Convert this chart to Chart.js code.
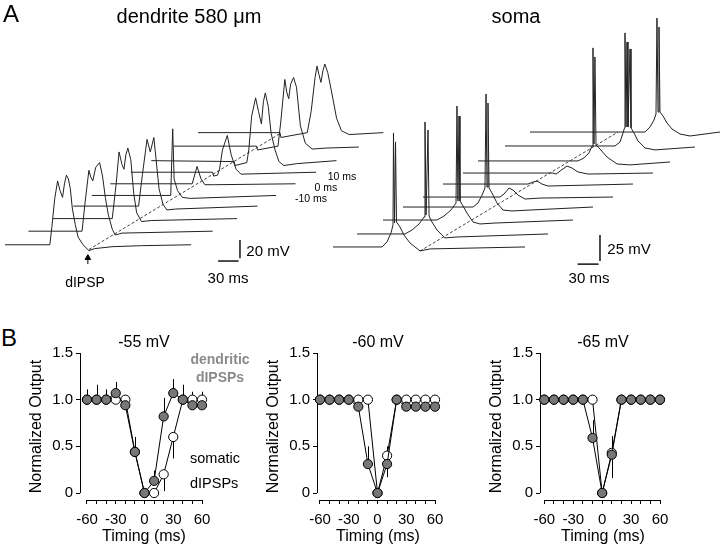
<!DOCTYPE html>
<html><head><meta charset="utf-8">
<script src="https://cdn.jsdelivr.net/npm/chart.js@4.4.1/dist/chart.umd.min.js"></script>
<style>
html,body{margin:0;padding:0;background:#fff;width:720px;height:548px;overflow:hidden;font-family:"Liberation Sans",Arial,sans-serif;}
canvas{position:absolute;}
.t{position:absolute;white-space:nowrap;color:#000;line-height:1;transform:translate(-50%,-50%);}
.l{position:absolute;white-space:nowrap;color:#000;line-height:1;transform:translate(0,-50%);}
</style></head><body>
<canvas id="cDend" width="400" height="300" style="left:0;top:0"></canvas>
<canvas id="cSoma" width="390" height="300" style="left:330px;top:0"></canvas>
<canvas id="cB1" width="240" height="228" style="left:24px;top:320px"></canvas>
<canvas id="cB2" width="234" height="228" style="left:261px;top:320px"></canvas>
<canvas id="cB3" width="238" height="228" style="left:484px;top:320px"></canvas>

<div class="t" style="left:11px;top:14px;font-size:24px">A</div>
<div class="t" style="left:189px;top:16px;font-size:20px">dendrite 580 μm</div>
<div class="t" style="left:516px;top:16px;font-size:20px">soma</div>
<div class="t" style="left:268px;top:250px;font-size:15px">20 mV</div>
<div class="t" style="left:228px;top:277px;font-size:15px">30 ms</div>
<div class="t" style="left:85px;top:282px;font-size:14px">dIPSP</div>
<div class="t" style="left:342px;top:176px;font-size:10.5px">10 ms</div>
<div class="t" style="left:326px;top:187px;font-size:10.5px">0 ms</div>
<div class="t" style="left:311px;top:198px;font-size:10.5px">-10 ms</div>
<div class="t" style="left:629px;top:248px;font-size:15px">25 mV</div>
<div class="t" style="left:589px;top:277px;font-size:15px">30 ms</div>
<div class="t" style="left:9px;top:338px;font-size:24px">B</div>
<div class="t" style="left:220px;top:359px;font-size:14px;font-weight:bold;color:#8a8a8a">dendritic</div>
<div class="t" style="left:220px;top:377px;font-size:14px;font-weight:bold;color:#8a8a8a">dIPSPs</div>
<div class="l" style="left:190px;top:458px;font-size:14.5px">somatic</div>
<div class="l" style="left:190px;top:483px;font-size:14.5px">dIPSPs</div>

<script>
// ---------- Panel B data ----------
const timing = [-60,-50,-40,-30,-20,-10,0,10,20,30,40,50,60];
const xTickValues = [-60,-50,-40,-30,-20,-10,0,10,20,30,40,50,60];
const xTickLabels = [-60,-30,0,30,60];
const yTickValues = [0,0.5,1.0,1.5];

const dend55 = [1.0,1.0,1.0,1.07,0.94,0.44,0.0,0.13,0.82,1.07,1.0,0.94,0.94];
const dend55ErrUp = [0.11,0.16,0.11,0.12,0.04,0.16,0,0.11,0.2,0.15,0.16,0.145,0.145];
const dend55ErrDn = [0,0,0,0,0,0,0,0,0,0,0,0,0];
const soma55 = [1,1,1,1,1,0.44,0,0,0.2,0.6,1,1,1];
const soma55ErrUp = [0,0,0,0,0,0,0,0,0,0,0,0,0];
const soma55ErrDn = [0,0,0,0,0,0,0,0,0.18,0.23,0,0,0];

const dend60 = [1,1,1,1,0.925,0.31,0,0.31,1,0.925,0.925,0.925,0.925];
const dend60ErrUp = [0.05,0.05,0.05,0.05,0,0.19,0,0,0,0,0,0,0];
const dend60ErrDn = [0,0,0,0,0,0,0,0.14,0,0,0,0,0];
const soma60 = [1,1,1,1,1,1,0,0.40,1,1,1,1,1];
const soma60ErrUp = [0,0,0,0,0,0,0,0.1,0,0,0,0,0];
const soma60ErrDn = [0,0,0,0,0,0,0,0,0,0,0,0,0];

const dend65 = [1,1,1,1,1,0.59,0,0.41,1,1,1,1,1];
const dend65ErrUp = [0,0,0,0,0,0.19,0,0.2,0,0,0,0,0];
const dend65ErrDn = [0,0,0,0,0,0,0,0,0,0,0,0,0];
const soma65 = [1,1,1,1,1,1,0,0.43,1,1,1,1,1];
const soma65ErrUp = [0,0,0,0,0,0,0,0,0,0,0,0,0];
const soma65ErrDn = [0,0,0,0,0,0,0,0.27,0,0,0,0,0];

// ---------- Panel A data: [ms, mV] relative to each trace start ----------
const dendTrace1 = [[0,0],[65.7,0],[68.6,18.9],[72.9,50.5],[77.1,69.5],[80.7,58.9],[84.3,51.6],[87.1,66.3],[90,75.8],[92.9,71.6],[95.7,61.1],[98.6,40],[102.9,22.1],[107.1,8.4],[114.3,0],[122.9,-6.3],[131.4,-4.2],[157,-2.1],[200,-1],[272.9,0]];
const dendTrace2 = [[0,0],[78.6,0],[82.9,30.5],[88.6,66.3],[91.4,58.9],[94.3,54.7],[98.6,69.5],[104.3,74.7],[108.6,60],[112.9,35.8],[117.1,17.9],[122.9,2.1],[127.1,-4.2],[137.1,-2.1],[270,0]];
const dendTrace3 = [[0,0],[87.1,0],[92.9,37.9],[97.1,72.6],[101.4,58.9],[104.3,53.7],[107.1,69.5],[110,76.8],[114.3,64.2],[118.6,27.4],[122.9,6.3],[130,-3.2],[144.3,-2.1],[270,0]];
const dendTrace4 = [[0,0],[95.7,0],[101.4,34.7],[108.1,72.6],[112.9,58.9],[118.1,74.7],[121.4,50.5],[125.7,18.9],[131.4,2.1],[137.1,-4.2],[150,-3.2],[270,0]];
const dendTrace5 = [[0,0],[115.7,0],[118.6,72.6],[120.7,17.9],[125.7,5.3],[132.9,-2.1],[144.3,-3.2],[270,0]];
const dendTrace6 = [[0,0],[120,0],[127.1,18.9],[132.9,5.3],[138.6,-1],[152.9,-1],[271.4,0]];
const dendTrace7 = [[0,0],[120,0],[121.4,-4.2],[127.1,-3.2],[130,3.2],[134.3,24.2],[141.4,40],[147.1,18.9],[154.3,3.2],[161.4,-2.1],[271.4,0]];
const dendTrace8 = [[0,0],[121.4,-1],[122.9,-5.3],[140,-2.1],[142.9,11.6],[147.1,48.4],[152.9,68.4],[157.1,53.7],[161.4,40],[164.3,64.2],[167.1,73.7],[171.4,58.9],[175.7,29.5],[181.4,11.6],[187.1,-1],[194.3,-5.3],[214.3,-3.2],[271.4,0]];
const dendTrace9 = [[0,0],[121.4,0],[122.9,-4.2],[152.9,0],[157.1,27.4],[162.9,72.6],[165.7,58.9],[168.6,51.6],[171.4,67.4],[175.7,74.7],[180,64.2],[185.7,22.1],[192.9,3.2],[202.9,-3.2],[222.9,-2.1],[271.4,-1]];
const dendTrace10 = [[0,0],[120,0],[121.4,-5.3],[160,0],[165.7,23.2],[171.4,60],[174.3,72.6],[177.1,63.2],[180,54.7],[182.9,67.4],[185.7,74.7],[190,65.3],[195.7,44.2],[202.9,15.8],[210,2.1],[221.4,-2.1],[271.4,0]];
const dendTraces = [dendTrace1,dendTrace2,dendTrace3,dendTrace4,dendTrace5,dendTrace6,dendTrace7,dendTrace8,dendTrace9,dendTrace10];
const dendStartMs = [0,34.3,70,100,127.1,154.3,184.3,214.3,247.1,282.9];
const dendStartMv = [54.7,69.5,83.2,96.8,108.4,121.1,133.7,146.3,162.1,176.8];
const dendIpspLine = [[122.9,49.5],[402.9,175.8]];

const somaTrace1 = [[0,0],[70,0],[77.1,4.8],[82.9,13.5],[85.7,21.2],[86.4,109.6],[87.9,23.1],[89.3,101],[90.7,24],[95.7,19.2],[101.4,11.5],[110,3.8],[124.3,-3.8],[138.6,-1.9],[274.3,0]];
const somaTrace2 = [[0,0],[68.6,0],[78.6,3.8],[88.6,9.6],[95.7,16.3],[97.1,107.7],[98.6,18.3],[101.4,100],[102.9,17.3],[107.1,11.5],[114.3,3.8],[125.7,-3.8],[142.9,-2.9],[272.9,0]];
const somaTrace3 = [[0,0],[77.1,0],[87.1,3.8],[97.1,9.6],[104.3,16.3],[105.7,109.6],[107.1,18.3],[108.6,100],[110,18.3],[114.3,13.5],[120,6.7],[128.6,-1.9],[138.6,-3.8],[160,-2.9],[271.4,0]];
const somaTrace4 = [[0,0],[100,0],[107.1,3.8],[112.9,11.5],[117.1,18.3],[118.6,108.7],[120,19.2],[121.4,100],[122.9,18.3],[127.1,13.5],[134.3,3.8],[142.9,-2.9],[155.7,-3.8],[181.4,-2.9],[271.4,0]];
const somaTrace5 = [[0,0],[110,0],[115.7,2.9],[122.9,8.7],[128.6,6.7],[135.7,1.9],[145.7,-1.9],[167.1,-1],[271.4,0]];
const somaTrace6 = [[0,0],[121.4,0],[128.6,1.9],[134.3,2.9],[141.4,0],[150,-1.9],[271.4,0]];
const somaTrace7 = [[0,0],[128.6,0],[132.9,-1],[138.6,1.9],[148.6,6.7],[155.7,4.8],[164.3,1],[178.6,-1],[271.4,0]];
const somaTrace8 = [[0,0],[142.9,0],[151.4,2.9],[158.6,7.7],[162.9,14.4],[164.3,108.7],[165.7,16.3],[167.1,100],[168.6,15.4],[174.3,11.5],[184.3,3.8],[198.6,-2.9],[217.1,-3.8],[274.3,-1]];
const somaTrace9 = [[0,0],[157.1,0],[164.3,3.8],[168.6,12.5],[170.7,17.3],[171.4,108.7],[172.9,18.3],[174.3,100],[175.7,18.3],[178.6,93.3],[180,17.3],[184.3,12.5],[190,4.8],[200,-1.9],[214.3,-3.8],[271.4,-1]];
const somaTrace10 = [[0,0],[164.3,0],[171.4,4.8],[177.1,11.5],[180,17.3],[181.4,109.6],[182.9,19.2],[184.3,101],[185.7,19.2],[190,15.4],[195.7,8.7],[202.9,2.9],[214.3,-1.9],[228.6,-3.8],[271.4,0]];
const somaTraces = [somaTrace1,somaTrace2,somaTrace3,somaTrace4,somaTrace5,somaTrace6,somaTrace7,somaTrace8,somaTrace9,somaTrace10];
const somaStartMs = [4.3,38.6,75.7,104.3,132.9,161.4,190,211.4,250,285.7];
const somaStartMv = [51,63.5,76.9,89.4,99,111.5,122.1,133.7,148.1,161.5];
const somaIpspLine = [[128.6,47.1],[411.4,161.5]];

// scale bars (ms, mV)
const dendScaleMs = 30, dendScaleMv = 20;
const somaScaleMs = 30, somaScaleMv = 25;

const FONT = '"Liberation Sans", Arial, sans-serif';
Chart.defaults.font.family = FONT;
Chart.defaults.color = '#000';

const lineDs = (pts, extra) => Object.assign({
  data: pts.map(p => ({x:p[0], y:p[1]})), showLine:true, pointRadius:0, borderWidth:1,
  borderColor:'#222', tension:0, fill:false
}, extra || {});

function traceChart(id, traces, startMs, startMv, ipsp, barAt, barMs, barMv, xMax, yMax, arrow) {
  const ds = traces.map((tr, k) => lineDs(tr.map(p => [startMs[k] + p[0], startMv[k] + p[1]])));
  ds.push(lineDs(ipsp, {borderDash:[3,2], borderColor:'#444'}));
  // vertical (mV) and horizontal (ms) scale bars
  ds.push(lineDs([[barAt[0], barAt[1]], [barAt[0], barAt[1] + barMv]], {borderColor:'#000', borderWidth:1.4}));
  ds.push(lineDs([[barAt[0] - 2 - barMs, barAt[1] - 3], [barAt[0] - 2, barAt[1] - 3]], {borderColor:'#000', borderWidth:1.4}));
  if (arrow) ds.push(lineDs(arrow, {borderColor:'#000', pointRadius:[0,3.2], pointStyle:'triangle', pointBackgroundColor:'#000', pointBorderColor:'#000'}));
  new Chart(document.getElementById(id), {
    type:'scatter',
    data:{datasets:ds},
    options:{
      responsive:false, animation:false, devicePixelRatio:1, events:[],
      layout:{padding:0},
      plugins:{legend:{display:false}, tooltip:{enabled:false}},
      scales:{
        x:{type:'linear', display:false, min:0, max:xMax},
        y:{type:'linear', display:false, min:0, max:yMax}
      }
    }
  });
}

traceChart('cDend', dendTraces, dendStartMs, dendStartMv, dendIpspLine, [344.3, 40], dendScaleMs, dendScaleMv, 400/0.7, 300/0.95, [[121.4,33.7],[121.4,40.5]]);
traceChart('cSoma', somaTraces, somaStartMs, somaStartMv, somaIpspLine, [385.7, 37.5], somaScaleMs, somaScaleMv, 390/0.7, 300/1.04, null);

// ---------- Panel B ----------
const axesPlugin = {
  id:'axesLines',
  beforeDatasetsDraw(chart) {
    const {ctx, chartArea, scales:{x, y}} = chart;
    ctx.save();
    ctx.strokeStyle = '#000'; ctx.lineWidth = 1;
    ctx.beginPath();
    const ax = Math.round(chartArea.left) + 0.5;
    ctx.moveTo(ax, y.getPixelForValue(0)); ctx.lineTo(ax, y.getPixelForValue(1.5));
    const ay = Math.round(chartArea.bottom) + 0.5;
    ctx.moveTo(x.getPixelForValue(-60), ay); ctx.lineTo(x.getPixelForValue(60), ay);
    ctx.stroke();
    // error bars
    chart.data.datasets.forEach(ds => {
      ds.data.forEach((p, i) => {
        const px = Math.round(x.getPixelForValue(p.x)) + 0.5;
        const up = ds.errUp[i], dn = ds.errDn[i];
        if (up > 0) { ctx.beginPath(); ctx.moveTo(px, y.getPixelForValue(p.y)); ctx.lineTo(px, y.getPixelForValue(p.y + up)); ctx.stroke(); }
        if (dn > 0) { ctx.beginPath(); ctx.moveTo(px, y.getPixelForValue(p.y)); ctx.lineTo(px, y.getPixelForValue(p.y - dn)); ctx.stroke(); }
      });
    });
    ctx.restore();
  }
};

function makeB(id, title, dend, dUp, dDn, soma, sUp, sDn, xMin, xMax) {
  const pt = (vals) => timing.map((t, i) => ({x:t, y:vals[i]}));
  new Chart(document.getElementById(id), {
    type:'scatter',
    data:{datasets:[
      {label:'dendritic dIPSPs', data:pt(dend), errUp:dUp, errDn:dDn, showLine:true, borderColor:'#000', borderWidth:1,
       pointRadius:4.6, pointBackgroundColor:'#777', pointBorderColor:'#000', pointBorderWidth:1, clip:false},
      {label:'somatic dIPSPs', data:pt(soma), errUp:sUp, errDn:sDn, showLine:true, borderColor:'#000', borderWidth:1,
       pointRadius:4.6, pointBackgroundColor:'#fff', pointBorderColor:'#000', pointBorderWidth:1, clip:false}
    ]},
    options:{
      responsive:false, animation:false, devicePixelRatio:1, events:[],
      layout:{padding:0},
      plugins:{
        legend:{display:false}, tooltip:{enabled:false},
        title:{display:true, text:title, color:'#000', font:{size:16, weight:'normal', family:FONT}, padding:{top:13.4, bottom:0.4}}
      },
      scales:{
        x:{type:'linear', position:'bottom', min:xMin, max:xMax,
           afterFit:s => { s.height = 48; },
           afterBuildTicks:s => { s.ticks = xTickValues.map(v => ({value:v})); },
           ticks:{autoSkip:false, maxRotation:0, padding:7, font:{size:15}, color:'#000',
                  callback:v => xTickLabels.includes(v) ? String(v) : ''},
           grid:{drawOnChartArea:false, drawTicks:true, tickLength:4, color:'#000', lineWidth:1},
           border:{display:false},
           title:{display:true, text:'Timing (ms)', color:'#000', font:{size:16}, padding:{top:0, bottom:1.4}}},
        y:{type:'linear', position:'left', min:-0.075, max:1.5,
           afterFit:s => { s.width = 56; },
           afterBuildTicks:s => { s.ticks = yTickValues.map(v => ({value:v})); },
           ticks:{padding:3, font:{size:15}, color:'#000', callback:v => v === 0 ? '0' : v.toFixed(1)},
           grid:{drawOnChartArea:false, drawTicks:true, tickLength:4, color:'#000', lineWidth:1},
           border:{display:false},
           title:{display:true, text:'Normalized Output', color:'#000', font:{size:16}, padding:{top:3, bottom:0}}},
        yR:{type:'linear', position:'right', display:true, min:0, max:1,
           afterFit:s => { s.width = 56; },
           grid:{display:false}, ticks:{display:false}, border:{display:false}}
      }
    },
    plugins:[axesPlugin]
  });
}

makeB('cB1', '-55 mV', dend55, dend55ErrUp, dend55ErrDn, soma55, soma55ErrUp, soma55ErrDn, -67.3, 66.26);
makeB('cB2', '-60 mV', dend60, dend60ErrUp, dend60ErrDn, soma60, soma60ErrUp, soma60ErrDn, -63.13, 64.17);
makeB('cB3', '-65 mV', dend65, dend65ErrUp, dend65ErrDn, soma65, soma65ErrUp, soma65ErrDn, -64.46, 66.22);
</script>
</body></html>
